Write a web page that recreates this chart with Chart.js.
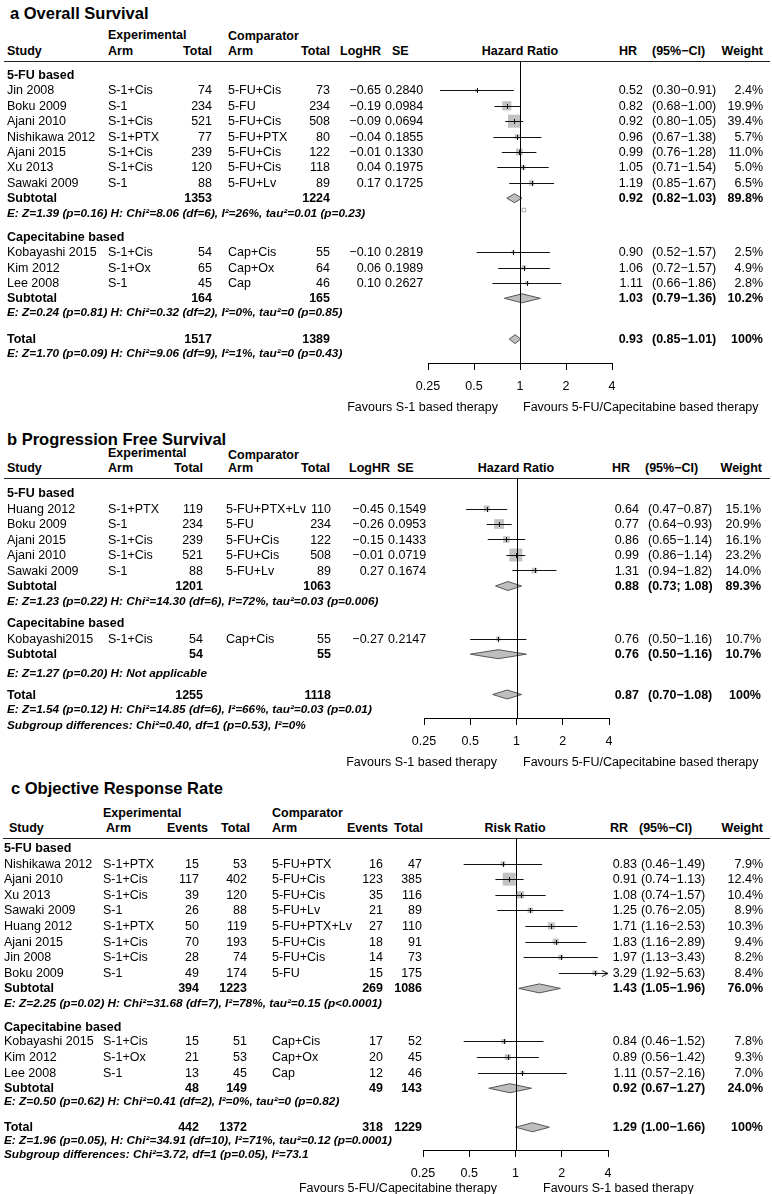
<!DOCTYPE html>
<html>
<head>
<meta charset="utf-8">
<script src="https://cdn.jsdelivr.net/npm/chart.js@4.4.1/dist/chart.umd.min.js"></script>
<style>
  body { margin: 0; background: #fff; }
  #page { position: relative; width: 772px; height: 1194px; overflow: hidden;
          font-family: "Liberation Sans", Arial, Helvetica, sans-serif; color: #000; }
  .t { position: absolute; white-space: nowrap; line-height: 1; font-size: 12.5px; }
  .b { font-weight: bold; }
  .e { font-weight: bold; font-style: italic; font-size: 11.8px; }
  .ttl { font-weight: bold; font-size: 16.5px; }
  .hl { position: absolute; height: 1px; background: #222; }
  canvas { position: absolute; left: 0; }
</style>
</head>
<body>
<div id="page"></div>
<script>
// ---- shared ----
const groupNames = ['5-FU based', 'Capecitabine based'];
const axisTicks = [0.25, 0.5, 1, 2, 4];
const nullEffect = 1;

// ---- a Overall Survival ----
const osStudy = ['Jin 2008', 'Boku 2009', 'Ajani 2010', 'Nishikawa 2012', 'Ajani 2015', 'Xu 2013', 'Sawaki 2009', 'Kobayashi 2015', 'Kim 2012', 'Lee 2008'];
const osExpArm = ['S-1+Cis', 'S-1', 'S-1+Cis', 'S-1+PTX', 'S-1+Cis', 'S-1+Cis', 'S-1', 'S-1+Cis', 'S-1+Ox', 'S-1'];
const osExpTotal = [74, 234, 521, 77, 239, 120, 88, 54, 65, 45];
const osCmpArm = ['5-FU+Cis', '5-FU', '5-FU+Cis', '5-FU+PTX', '5-FU+Cis', '5-FU+Cis', '5-FU+Lv', 'Cap+Cis', 'Cap+Ox', 'Cap'];
const osCmpTotal = [73, 234, 508, 80, 122, 118, 89, 55, 64, 46];
const osLogHR = [-0.65, -0.19, -0.09, -0.04, -0.01, 0.04, 0.17, -0.10, 0.06, 0.10];
const osSE = [0.2840, 0.0984, 0.0694, 0.1855, 0.1330, 0.1975, 0.1725, 0.2819, 0.1989, 0.2627];
const osHR = [0.52, 0.82, 0.92, 0.96, 0.99, 1.05, 1.19, 0.90, 1.06, 1.11];
const osLow = [0.30, 0.68, 0.80, 0.67, 0.76, 0.71, 0.85, 0.52, 0.72, 0.66];
const osHigh = [0.91, 1.00, 1.05, 1.38, 1.28, 1.54, 1.67, 1.57, 1.57, 1.86];
const osWeight = ['2.4%', '19.9%', '39.4%', '5.7%', '11.0%', '5.0%', '6.5%', '2.5%', '4.9%', '2.8%'];
// subtotal 5-FU, subtotal capecitabine, total
const osPoolExp = [1353, 164, 1517];
const osPoolCmp = [1224, 165, 1389];
const osPoolHR = [0.92, 1.03, 0.93];
const osPoolLow = [0.82, 0.79, 0.85];
const osPoolHigh = [1.03, 1.36, 1.01];
const osPoolWeight = ['89.8%', '10.2%', '100%'];
const osStats = [
  'E: Z=1.39 (p=0.16) H: Chi\u00b2=8.06 (df=6), I\u00b2=26%, tau\u00b2=0.01 (p=0.23)',
  'E: Z=0.24 (p=0.81) H: Chi\u00b2=0.32 (df=2), I\u00b2=0%, tau\u00b2=0 (p=0.85)',
  'E: Z=1.70 (p=0.09) H: Chi\u00b2=9.06 (df=9), I\u00b2=1%, tau\u00b2=0 (p=0.43)'
];
const osStray = [1.06]; // small hollow marker under the 5-FU subtotal

// ---- b Progression Free Survival ----
const pfsStudy = ['Huang 2012', 'Boku 2009', 'Ajani 2015', 'Ajani 2010', 'Sawaki 2009', 'Kobayashi2015'];
const pfsExpArm = ['S-1+PTX', 'S-1', 'S-1+Cis', 'S-1+Cis', 'S-1', 'S-1+Cis'];
const pfsExpTotal = [119, 234, 239, 521, 88, 54];
const pfsCmpArm = ['5-FU+PTX+Lv', '5-FU', '5-FU+Cis', '5-FU+Cis', '5-FU+Lv', 'Cap+Cis'];
const pfsCmpTotal = [110, 234, 122, 508, 89, 55];
const pfsLogHR = [-0.45, -0.26, -0.15, -0.01, 0.27, -0.27];
const pfsSE = [0.1549, 0.0953, 0.1433, 0.0719, 0.1674, 0.2147];
const pfsHR = [0.64, 0.77, 0.86, 0.99, 1.31, 0.76];
const pfsLow = [0.47, 0.64, 0.65, 0.86, 0.94, 0.50];
const pfsHigh = [0.87, 0.93, 1.14, 1.14, 1.82, 1.16];
const pfsWeight = ['15.1%', '20.9%', '16.1%', '23.2%', '14.0%', '10.7%'];
const pfsPoolExp = [1201, 54, 1255];
const pfsPoolCmp = [1063, 55, 1118];
const pfsPoolHR = [0.88, 0.76, 0.87];
const pfsPoolLow = [0.73, 0.50, 0.70];
const pfsPoolHigh = [1.08, 1.16, 1.08];
const pfsPoolWeight = ['89.3%', '10.7%', '100%'];
const pfsPoolSep = ['; ', '\u2212', '\u2212'];
const pfsStats = [
  'E: Z=1.23 (p=0.22) H: Chi\u00b2=14.30 (df=6), I\u00b2=72%, tau\u00b2=0.03 (p=0.006)',
  'E: Z=1.27 (p=0.20) H: Not applicable',
  'E: Z=1.54 (p=0.12) H: Chi\u00b2=14.85 (df=6), I\u00b2=66%, tau\u00b2=0.03 (p=0.01)'
];
const pfsSubgroup = 'Subgroup differences: Chi\u00b2=0.40, df=1 (p=0.53), I\u00b2=0%';

// ---- c Objective Response Rate ----
const orrStudy = ['Nishikawa 2012', 'Ajani 2010', 'Xu 2013', 'Sawaki 2009', 'Huang 2012', 'Ajani 2015', 'Jin 2008', 'Boku 2009', 'Kobayashi 2015', 'Kim 2012', 'Lee 2008'];
const orrExpArm = ['S-1+PTX', 'S-1+Cis', 'S-1+Cis', 'S-1', 'S-1+PTX', 'S-1+Cis', 'S-1+Cis', 'S-1', 'S-1+Cis', 'S-1+Ox', 'S-1'];
const orrExpEvents = [15, 117, 39, 26, 50, 70, 28, 49, 15, 21, 13];
const orrExpTotal = [53, 402, 120, 88, 119, 193, 74, 174, 51, 53, 45];
const orrCmpArm = ['5-FU+PTX', '5-FU+Cis', '5-FU+Cis', '5-FU+Lv', '5-FU+PTX+Lv', '5-FU+Cis', '5-FU+Cis', '5-FU', 'Cap+Cis', 'Cap+Ox', 'Cap'];
const orrCmpEvents = [16, 123, 35, 21, 27, 18, 14, 15, 17, 20, 12];
const orrCmpTotal = [47, 385, 116, 89, 110, 91, 73, 175, 52, 45, 46];
const orrRR = [0.83, 0.91, 1.08, 1.25, 1.71, 1.83, 1.97, 3.29, 0.84, 0.89, 1.11];
const orrLow = [0.46, 0.74, 0.74, 0.76, 1.16, 1.16, 1.13, 1.92, 0.46, 0.56, 0.57];
const orrHigh = [1.49, 1.13, 1.57, 2.05, 2.53, 2.89, 3.43, 5.63, 1.52, 1.42, 2.16];
const orrWeight = ['7.9%', '12.4%', '10.4%', '8.9%', '10.3%', '9.4%', '8.2%', '8.4%', '7.8%', '9.3%', '7.0%'];
const orrPoolExpEvents = [394, 48, 442];
const orrPoolExpTotal = [1223, 149, 1372];
const orrPoolCmpEvents = [269, 49, 318];
const orrPoolCmpTotal = [1086, 143, 1229];
const orrPoolRR = [1.43, 0.92, 1.29];
const orrPoolLow = [1.05, 0.67, 1.00];
const orrPoolHigh = [1.96, 1.27, 1.66];
const orrPoolWeight = ['76.0%', '24.0%', '100%'];
const orrStats = [
  'E: Z=2.25 (p=0.02) H: Chi\u00b2=31.68 (df=7), I\u00b2=78%, tau\u00b2=0.15 (p<0.0001)',
  'E: Z=0.50 (p=0.62) H: Chi\u00b2=0.41 (df=2), I\u00b2=0%, tau\u00b2=0 (p=0.82)',
  'E: Z=1.96 (p=0.05), H: Chi\u00b2=34.91 (df=10), I\u00b2=71%, tau\u00b2=0.12 (p=0.0001)'
];
const orrSubgroup = 'Subgroup differences: Chi\u00b2=3.72, df=1 (p=0.05), I\u00b2=73.1';

// ---------------------------------------------------------------
const W = 772;
const AXIS_H = 40;
const FONT = '"Liberation Sans", Arial, Helvetica, sans-serif';
const page = document.getElementById('page');

function txt(s, x, y, align, cls) {
  const d = document.createElement('div');
  d.className = 't ' + (cls || '');
  d.textContent = s;
  if (align === 'r') {
    d.style.right = (W - x) + 'px';
    d.style.transform = 'translateY(-50%)';
  } else if (align === 'c') {
    d.style.left = x + 'px';
    d.style.transform = 'translate(-50%,-50%)';
  } else {
    d.style.left = x + 'px';
    d.style.transform = 'translateY(-50%)';
  }
  d.style.top = y + 'px';
  page.appendChild(d);
}

function hline(x0, x1, y) {
  const d = document.createElement('div');
  d.className = 'hl';
  d.style.left = x0 + 'px';
  d.style.width = (x1 - x0) + 'px';
  d.style.top = y + 'px';
  page.appendChild(d);
}

const fmtLog = v => (v < 0 ? '\u2212' + Math.abs(v).toFixed(2) : v.toFixed(2));
const fmtCI = (lo, hi, sep) => '(' + lo.toFixed(2) + (sep || '\u2212') + hi.toFixed(2) + ')';

// rows for the hazard ratio panels (a, b)
function hrRows(d, slots) {
  const rows = [];
  groupNames.forEach((g, i) => rows.push({ slot: slots.groups[i], cells: [g], cls: 'b' }));
  d.study.forEach((s, i) => rows.push({
    slot: slots.studies[i],
    cells: [s, d.expArm[i], d.expTotal[i], d.cmpArm[i], d.cmpTotal[i], fmtLog(d.logHR[i]),
            d.se[i].toFixed(4), d.est[i].toFixed(2), fmtCI(d.low[i], d.high[i]), d.weight[i]],
    sq: { est: d.est[i], lo: d.low[i], hi: d.high[i], w: 1 / d.se[i] }
  }));
  d.poolEst.forEach((e, k) => rows.push({
    slot: slots.pool[k], cls: 'b',
    cells: [k < 2 ? 'Subtotal' : 'Total', '', d.poolExp[k], '', d.poolCmp[k], '', '',
            e.toFixed(2), fmtCI(d.poolLow[k], d.poolHigh[k], d.poolSep && d.poolSep[k]), d.poolWeight[k]],
    dia: { est: e, lo: d.poolLow[k], hi: d.poolHigh[k] }
  }));
  d.stats.forEach((s, k) => rows.push({ slot: slots.stats[k], note: s }));
  if (d.subgroup) rows.push({ slot: slots.subgroup, note: d.subgroup });
  return rows;
}

// rows for the risk ratio panel (c)
function rrRows(slots) {
  const rows = [];
  groupNames.forEach((g, i) => rows.push({ slot: slots.groups[i], cells: [g], cls: 'b' }));
  orrStudy.forEach((s, i) => {
    const v = 1 / orrExpEvents[i] - 1 / orrExpTotal[i] + 1 / orrCmpEvents[i] - 1 / orrCmpTotal[i];
    rows.push({
      slot: slots.studies[i],
      cells: [s, orrExpArm[i], orrExpEvents[i], orrExpTotal[i], orrCmpArm[i], orrCmpEvents[i], orrCmpTotal[i],
              orrRR[i].toFixed(2), fmtCI(orrLow[i], orrHigh[i]), orrWeight[i]],
      sq: { est: orrRR[i], lo: orrLow[i], hi: orrHigh[i], w: 1 / Math.sqrt(v) }
    });
  });
  orrPoolRR.forEach((e, k) => rows.push({
    slot: slots.pool[k], cls: 'b',
    cells: [k < 2 ? 'Subtotal' : 'Total', '', orrPoolExpEvents[k], orrPoolExpTotal[k], '', orrPoolCmpEvents[k],
            orrPoolCmpTotal[k], e.toFixed(2), fmtCI(orrPoolLow[k], orrPoolHigh[k]), orrPoolWeight[k]],
    dia: { est: e, lo: orrPoolLow[k], hi: orrPoolHigh[k] }
  }));
  orrStats.forEach((s, k) => rows.push({ slot: slots.stats[k], note: s }));
  rows.push({ slot: slots.subgroup, note: orrSubgroup });
  return rows;
}

function forestPlugin(whiskers, diamonds) {
  return {
    id: 'forest',
    afterDatasetsDraw(chart) {
      const { ctx, chartArea: a, scales: { x, y } } = chart;
      const crisp = v => Math.round(v) + 0.5;
      ctx.save();
      ctx.lineWidth = 1;
      ctx.strokeStyle = '#111';
      whiskers.forEach(w => {
        const py = crisp(y.getPixelForValue(w.y));
        const x0 = x.getPixelForValue(Math.max(w.lo, x.min));
        const x1 = x.getPixelForValue(Math.min(w.hi, x.max));
        ctx.beginPath();
        ctx.moveTo(x0, py);
        ctx.lineTo(x1, py);
        if (w.hi > x.max) {
          ctx.moveTo(x1 - 6, py - 3);
          ctx.lineTo(x1, py);
          ctx.lineTo(x1 - 6, py + 3);
        }
        const pe = crisp(x.getPixelForValue(w.est));
        ctx.moveTo(pe, py - 2.5);
        ctx.lineTo(pe, py + 2.5);
        ctx.stroke();
      });
      diamonds.forEach(d => {
        const py = y.getPixelForValue(d.y);
        const x0 = x.getPixelForValue(d.lo);
        const xm = x.getPixelForValue(d.est);
        const x1 = x.getPixelForValue(d.hi);
        ctx.beginPath();
        ctx.moveTo(x0, py);
        ctx.lineTo(xm, py - 4.5);
        ctx.lineTo(x1, py);
        ctx.lineTo(xm, py + 4.5);
        ctx.closePath();
        ctx.fillStyle = '#bebebe';
        ctx.fill();
        ctx.strokeStyle = '#555';
        ctx.stroke();
      });
      // line of no effect
      const xr = crisp(x.getPixelForValue(nullEffect));
      ctx.strokeStyle = '#000';
      ctx.beginPath();
      ctx.moveTo(xr, a.top);
      ctx.lineTo(xr, a.bottom);
      ctx.stroke();
      ctx.restore();
    }
  };
}

function drawPanel(P) {
  const yOf = s => P.row0 + s * P.rowH;

  // chart part
  const sqRows = P.rows.filter(r => r.sq);
  const wMax = Math.max(...sqRows.map(r => r.sq.w));
  const H = P.axisY - P.lineY + AXIS_H;
  const cv = document.createElement('canvas');
  cv.width = W;
  cv.height = H;
  cv.style.top = P.lineY + 'px';
  page.appendChild(cv);

  const datasets = [{
    data: sqRows.map(r => ({ x: r.sq.est, y: r.slot })),
    pointStyle: 'rect',
    pointRadius: sqRows.map(r => 13 * r.sq.w / wMax / Math.SQRT2),
    backgroundColor: '#c2c2c2',
    borderWidth: 0,
    clip: false
  }];
  if (P.stray) {
    datasets.push({
      data: P.stray.values.map(v => ({ x: v, y: P.stray.slot })),
      pointStyle: 'rect',
      pointRadius: 2.6,
      backgroundColor: '#fff',
      borderColor: '#aaa',
      borderWidth: 1,
      clip: false
    });
  }
  const whiskers = sqRows.map(r => ({ y: r.slot, est: r.sq.est, lo: r.sq.lo, hi: r.sq.hi }));
  const diamonds = P.rows.filter(r => r.dia).map(r => ({ y: r.slot, est: r.dia.est, lo: r.dia.lo, hi: r.dia.hi }));

  new Chart(cv, {
    type: 'scatter',
    data: { datasets },
    options: {
      responsive: false,
      animation: false,
      events: [],
      layout: { autoPadding: false, padding: { left: P.xLo, right: W - P.xHi, top: 0, bottom: 0 } },
      plugins: { legend: { display: false }, tooltip: { enabled: false } },
      scales: {
        x: {
          type: 'logarithmic',
          position: 'bottom',
          bounds: 'data',
          min: axisTicks[0],
          max: axisTicks[axisTicks.length - 1],
          afterBuildTicks: s => { s.ticks = axisTicks.map(v => ({ value: v })); },
          afterFit: s => { s.height = AXIS_H; },
          ticks: {
            autoSkip: false, maxRotation: 0, padding: 9, color: '#000',
            font: { family: FONT, size: 12.5 },
            callback: v => String(v)
          },
          grid: { drawOnChartArea: false, drawTicks: true, tickLength: 7, color: '#000', lineWidth: 1 },
          border: { display: true, color: '#000', width: 1 }
        },
        y: {
          type: 'linear',
          display: false,
          bounds: 'data',
          reverse: true,
          min: (P.lineY - P.row0) / P.rowH,
          max: (P.axisY - P.row0) / P.rowH
        }
      }
    },
    plugins: [forestPlugin(whiskers, diamonds)]
  });

  // text part
  txt(P.title, P.titleX, P.titleY, 'l', 'ttl');
  P.heads.forEach(h => txt(h[0], h[1], h[2], h[3], 'b'));
  hline(P.lineX0, P.lineX1, P.lineY);
  P.rows.forEach(r => {
    if (r.note) { txt(r.note, P.noteX, yOf(r.slot), 'l', 'e'); return; }
    r.cells.forEach((c, i) => {
      if (c === '' || c == null) return;
      const col = P.cols[i];
      txt(String(c), col.x, yOf(r.slot), col.a, r.cls);
    });
  });
  P.favours.forEach(f => txt(f[0], f[1], P.favY, f[2]));
}

// ---- panel a ----
drawPanel({
  title: 'a Overall Survival', titleX: 10, titleY: 13,
  heads: [
    ['Experimental', 108, 35, 'l'], ['Comparator', 228, 36, 'l'],
    ['Study', 7, 51, 'l'], ['Arm', 108, 51, 'l'], ['Total', 212, 51, 'r'], ['Arm', 228, 51, 'l'],
    ['Total', 330, 51, 'r'], ['LogHR', 381, 51, 'r'], ['SE', 392, 51, 'l'], ['Hazard Ratio', 520, 51, 'c'],
    ['HR', 637, 51, 'r'], ['(95%\u2212CI)', 652, 51, 'l'], ['Weight', 763, 51, 'r']
  ],
  lineY: 61, lineX0: 4, lineX1: 770, axisY: 363,
  row0: 75, rowH: 15.4, xLo: 428, xHi: 612, noteX: 7,
  cols: [{ x: 7, a: 'l' }, { x: 108, a: 'l' }, { x: 212, a: 'r' }, { x: 228, a: 'l' }, { x: 330, a: 'r' },
         { x: 381, a: 'r' }, { x: 385, a: 'l' }, { x: 643, a: 'r' }, { x: 652, a: 'l' }, { x: 763, a: 'r' }],
  rows: hrRows({
    study: osStudy, expArm: osExpArm, expTotal: osExpTotal, cmpArm: osCmpArm, cmpTotal: osCmpTotal,
    logHR: osLogHR, se: osSE, est: osHR, low: osLow, high: osHigh, weight: osWeight,
    poolExp: osPoolExp, poolCmp: osPoolCmp, poolEst: osPoolHR, poolLow: osPoolLow, poolHigh: osPoolHigh,
    poolWeight: osPoolWeight, stats: osStats
  }, { groups: [0, 10.5], studies: [1, 2, 3, 4, 5, 6, 7, 11.5, 12.5, 13.5], pool: [8, 14.5, 17.15], stats: [9, 15.45, 18.1] }),
  stray: { values: osStray, slot: 8.77 },
  favY: 407,
  favours: [['Favours S-1 based therapy', 498, 'r'], ['Favours 5-FU/Capecitabine based therapy', 523, 'l']]
});

// ---- panel b ----
drawPanel({
  title: 'b Progression Free Survival', titleX: 7, titleY: 439,
  heads: [
    ['Experimental', 108, 453, 'l'], ['Comparator', 228, 455, 'l'],
    ['Study', 7, 468, 'l'], ['Arm', 108, 468, 'l'], ['Total', 203, 468, 'r'], ['Arm', 228, 468, 'l'],
    ['Total', 330, 468, 'r'], ['LogHR', 390, 468, 'r'], ['SE', 397, 468, 'l'], ['Hazard Ratio', 516, 468, 'c'],
    ['HR', 630, 468, 'r'], ['(95%\u2212CI)', 645, 468, 'l'], ['Weight', 762, 468, 'r']
  ],
  lineY: 478, lineX0: 4, lineX1: 770, axisY: 718,
  row0: 493, rowH: 15.5, xLo: 424, xHi: 609, noteX: 7,
  cols: [{ x: 7, a: 'l' }, { x: 108, a: 'l' }, { x: 203, a: 'r' }, { x: 226, a: 'l' }, { x: 331, a: 'r' },
         { x: 384, a: 'r' }, { x: 388, a: 'l' }, { x: 639, a: 'r' }, { x: 648, a: 'l' }, { x: 761, a: 'r' }],
  rows: hrRows({
    study: pfsStudy, expArm: pfsExpArm, expTotal: pfsExpTotal, cmpArm: pfsCmpArm, cmpTotal: pfsCmpTotal,
    logHR: pfsLogHR, se: pfsSE, est: pfsHR, low: pfsLow, high: pfsHigh, weight: pfsWeight,
    poolExp: pfsPoolExp, poolCmp: pfsPoolCmp, poolEst: pfsPoolHR, poolLow: pfsPoolLow, poolHigh: pfsPoolHigh,
    poolWeight: pfsPoolWeight, poolSep: pfsPoolSep, stats: pfsStats, subgroup: pfsSubgroup
  }, { groups: [0, 8.4], studies: [1, 2, 3, 4, 5, 9.4], pool: [6, 10.4, 13], stats: [7, 11.7, 14], subgroup: 15 }),
  favY: 762,
  favours: [['Favours S-1 based therapy', 497, 'r'], ['Favours 5-FU/Capecitabine based therapy', 523, 'l']]
});

// ---- panel c ----
drawPanel({
  title: 'c Objective Response Rate', titleX: 11, titleY: 788,
  heads: [
    ['Experimental', 103, 813, 'l'], ['Comparator', 272, 813, 'l'],
    ['Study', 9, 828, 'l'], ['Arm', 106, 828, 'l'], ['Events', 208, 828, 'r'], ['Total', 250, 828, 'r'],
    ['Arm', 272, 828, 'l'], ['Events', 388, 828, 'r'], ['Total', 423, 828, 'r'], ['Risk Ratio', 515, 828, 'c'],
    ['RR', 628, 828, 'r'], ['(95%\u2212CI)', 639, 828, 'l'], ['Weight', 763, 828, 'r']
  ],
  lineY: 838, lineX0: 3, lineX1: 770, axisY: 1150,
  row0: 848, rowH: 15.6, xLo: 423, xHi: 608, noteX: 4,
  cols: [{ x: 4, a: 'l' }, { x: 103, a: 'l' }, { x: 199, a: 'r' }, { x: 247, a: 'r' }, { x: 272, a: 'l' },
         { x: 383, a: 'r' }, { x: 422, a: 'r' }, { x: 637, a: 'r' }, { x: 641, a: 'l' }, { x: 763, a: 'r' }],
  rows: rrRows({ groups: [0, 11.5], studies: [1, 2, 3, 4, 5, 6, 7, 8, 12.4, 13.4, 14.4], pool: [9, 15.4, 17.9],
                 stats: [10, 16.3, 18.8], subgroup: 19.7 }),
  favY: 1188,
  favours: [['Favours 5-FU/Capecitabine therapy', 497, 'r'], ['Favours S-1 based therapy', 543, 'l']]
});
</script>
</body>
</html>
